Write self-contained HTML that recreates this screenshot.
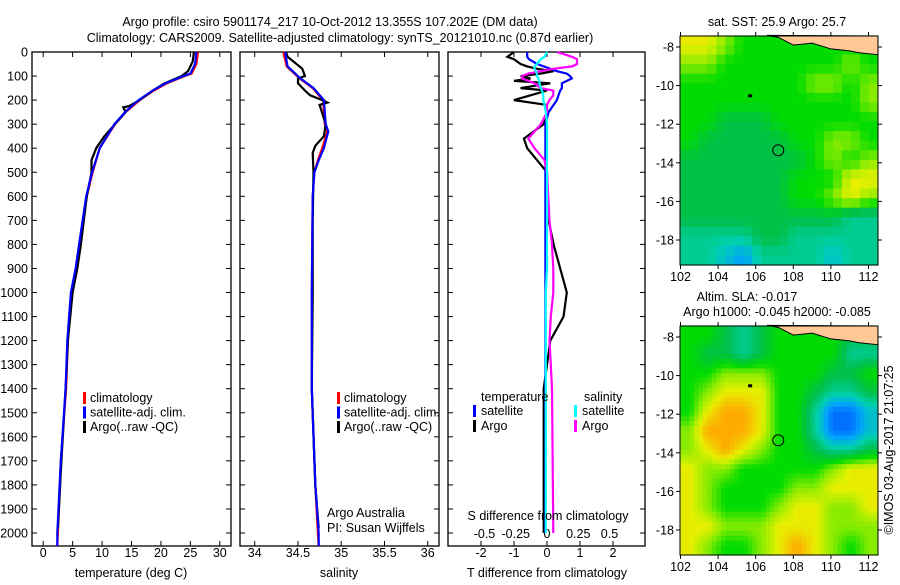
<!DOCTYPE html>
<html><head><meta charset="utf-8"><style>
body{margin:0;background:#fff;width:900px;height:580px;overflow:hidden;font-family:"Liberation Sans",sans-serif}
svg text{font-family:"Liberation Sans",sans-serif;font-size:12.5px;fill:#000}
</style></head><body>
<svg id="c" width="900" height="580" xmlns="http://www.w3.org/2000/svg"></svg>
<script>
// ---- data ----
const tDepthClim=[0,50,90,100,130,160,200,250,300,400,500,600,700,800,900,1000,1200,1400,1700,2000,2054];
const tClim=[26.3,26,25.2,24,21,18.8,16.4,14,12.2,9.6,8.4,7.4,6.8,6.2,5.6,4.8,4.2,3.9,3.0,2.5,2.4];
const tSat=[26.0,25.8,25.0,23.8,20.8,18.6,16.2,13.9,12.1,9.6,8.3,7.3,6.7,6.1,5.5,4.7,4.1,3.8,3.0,2.4,2.4];
const tDepthArgo=[0,40,80,100,130,160,200,225,230,250,300,350,400,450,500,600,700,800,900,1000,1200,1400,1700,1980];
const tArgo=[25.6,25.4,24.6,23.5,20.6,18.6,16.4,14.6,13.6,14,12.2,10.4,9.0,8.2,8.2,7.4,6.9,6.4,5.8,5.0,4.2,3.8,3.1,2.5];
const sDepthClim=[0,60,110,150,200,300,330,400,450,500,600,1000,1400,1800,2000,2054];
const sClim=[34.33,34.37,34.52,34.67,34.79,34.81,34.84,34.78,34.73,34.69,34.67,34.66,34.66,34.70,34.73,34.74];
const sSat=[34.35,34.38,34.53,34.68,34.80,34.82,34.85,34.80,34.74,34.69,34.67,34.66,34.66,34.70,34.74,34.74];
const sDepthArgo=[0,20,40,70,100,110,130,160,180,200,210,220,300,350,390,420,500,700,1000,1400,1800,1980];
const sArgo=[34.36,34.38,34.45,34.55,34.58,34.50,34.50,34.58,34.64,34.78,34.84,34.75,34.82,34.80,34.70,34.67,34.68,34.67,34.67,34.66,34.70,34.74];
const dDepth=[0,20,30,50,60,70,80,90,100,110,120,130,150,160,180,200,220,250,300,330,360,400,450,500,700,800,900,1000,1100,1200,1300,1400,2000];
const dTArgo=[-1.0,-1.2,-1.0,-0.8,-0.6,-0.3,0.2,-0.2,-0.8,-0.5,-1.0,0.1,-0.8,0,-0.5,-1.0,0,0,-0.1,-0.4,-0.7,-0.6,-0.3,0,0.05,0.2,0.4,0.6,0.5,0.1,0,-0.1,-0.1];
const dTSat=[-0.6,-0.6,-0.55,-0.3,-0.1,0.1,0.3,0.6,0.7,0.75,0.6,0.45,0.45,0.4,0.35,0.3,0.2,0.05,-0.05,-0.05,-0.05,-0.05,-0.05,-0.05,-0.05,-0.05,-0.05,-0.05,-0.05,-0.05,-0.05,-0.05,-0.05];
const dSArgo=[0.08,0.2,0.24,0.24,0.2,0.05,-0.05,-0.15,-0.2,-0.2,-0.15,-0.1,-0.05,0.05,0.05,0.02,0,0,-0.05,-0.1,-0.15,-0.1,-0.02,0,0.02,0.04,0.05,0.05,0.03,0.02,0.03,0.04,0.05];
const dSSat=[0,-0.02,-0.05,-0.08,-0.1,-0.1,-0.09,-0.08,-0.08,-0.07,-0.06,-0.06,-0.05,-0.04,-0.03,-0.03,-0.02,-0.01,0,0,0,0,0,0,0,0,0,-0.01,-0.01,-0.01,-0.01,-0.01,-0.01];
const depthTicks=[0,100,200,300,400,500,600,700,800,900,1000,1100,1200,1300,1400,1500,1600,1700,1800,1900,2000];
const tTicks=[0,5,10,15,20,25,30];
const sTicks=[34,34.5,35,35.5,36];
const dtTicks=[-2,-1,0,1,2];
const dsTicks=[-0.5,-0.25,0,0.25,0.5];
const lonTicks=[102,104,106,108,110,112];
const latTicks=[-8,-10,-12,-14,-16,-18];
const sstGrid=[
[8,8,7,6,6,6,6,6,6,6,6],[7,7,6,6,6,6,6,6,6,7,6],[6,6,6,6,6,6,6,7,7,6,7],[6,6,6,6,6,6,6,6,6,6,7],
[6,6,5,5,5,6,6,6,6,6,6],[6,5,5,5,5,5,6,6,7,7,6],[5,5,5,5,5,5,5,6,7,6,7],[5,5,5,5,5,5,6,6,6,8,8],
[5,5,5,5,5,5,6,6,7,8,7],[5,5,5,5,5,5,5,5,5,4,4],[4,4,4,4,5,5,4,4,4,4,4],[4,4,3,2,4,4,4,4,3,4,4]];
const slaGrid=[
[6,6,5,4,5,6,6,6,6,5,5],[6,5,5,4,5,6,6,6,6,4,4],[6,6,7,7,7,6,6,6,5,5,6],[6,7,8,8,8,6,6,5,4,4,5],
[6,8,9,9,8,6,6,4,1,1,3],[7,9,9,9,8,6,6,4,1,1,3],[7,8,9,8,7,6,6,5,4,4,5],[8,7,7,6,6,6,6,6,7,8,8],
[8,7,6,6,6,6,7,7,8,8,8],[8,7,6,6,6,7,8,8,7,7,8],[8,8,7,7,7,8,8,8,7,7,7],[8,7,6,6,7,8,9,8,7,6,7]];
const coastLon=[106.6,107.2,108,109,110,111,111.5,112.5];
const coastLat=[-7.4,-7.5,-7.9,-7.8,-8.1,-8.2,-8.3,-8.4];
const argoPos=[107.2,-13.35];

// ---- helpers ----
const S=document.getElementById('c'),NS='http://www.w3.org/2000/svg';
function mk(t,a,p){const e=document.createElementNS(NS,t);for(const k in a)e.setAttribute(k,a[k]);(p||S).appendChild(e);return e;}
function txt(x,y,s,anchor,name){const e=mk('text',{x:x,y:y,'text-anchor':anchor||'middle'});e.textContent=s;

return e;}
const Y0=52,Y1=546,D0=0,D1=2054;
const yD=d=>Y0+(d-D0)*(Y1-Y0)/(D1-D0);
function lin(a,b,p,q){return v=>p+(v-a)*(q-p)/(b-a);}
function panel(x0,x1,name){const r=mk('rect',{x:x0,y:Y0,width:x1-x0,height:Y1-Y0,fill:'none',stroke:'#000','stroke-width':1.3});

}
function line(xs,ds,fx,col,name,w){const pts=xs.map((v,i)=>fx(v).toFixed(1)+','+yD(ds[i]).toFixed(1)).join(' ');
const e=mk('polyline',{points:pts,fill:'none',stroke:col,'stroke-width':w||2.2});

}
function xticks(ticks,fx,ylab){ticks.forEach(t=>{const x=fx(t);mk('line',{x1:x,x2:x,y1:Y1,y2:Y1-5,stroke:'#000'});mk('line',{x1:x,x2:x,y1:Y0,y2:Y0+5,stroke:'#000'});
if(ylab)txt(x,ylab,String(t),'middle','x-tick-label');});}
function yticks(x0,x1,lab){depthTicks.forEach(d=>{const y=yD(d);mk('line',{x1:x0,x2:x0+5,y1:y,y2:y,stroke:'#000'});mk('line',{x1:x1,x2:x1-5,y1:y,y2:y,stroke:'#000'});
if(lab)txt(x0-4,y+4.5,String(d),'end','y-tick-label');});}
function legMark(x,y,col){const e=mk('rect',{x:x,y:y-10,width:3,height:12,fill:col});

}

txt(330,26,'Argo profile: csiro 5901174_217 10-Oct-2012 13.355S 107.202E (DM data)','middle','title-line-1');
txt(340,42,'Climatology: CARS2009. Satellite-adjusted climatology: synTS_20121010.nc (0.87d earlier)','middle','title-line-2');

const fT=lin(-1.9,31.9,32,231);
panel(32,231,'temperature-panel');yticks(32,231,true);xticks(tTicks,fT,557);
line(tClim,tDepthClim,fT,'#f00','climatology-temp-line');
line(tArgo,tDepthArgo,fT,'#000','argo-temp-line');
line(tSat,tDepthClim,fT,'#00f','satellite-temp-line');
txt(131,577,'temperature (deg C)','middle','x-axis-title-temp');
[['climatology','#f00'],['satellite-adj. clim.','#00f'],['Argo(..raw -QC)','#000']].forEach((l,i)=>{legMark(83,402+i*14.5,l[1]);txt(90,402+i*14.5,l[0],'start','legend-entry');});

const fS=lin(33.83,36.13,240,439);
panel(240,439,'salinity-panel');yticks(240,439,false);xticks(sTicks,fS,557);
line(sClim,sDepthClim,fS,'#f00','climatology-sal-line');
line(sArgo,sDepthArgo,fS,'#000','argo-sal-line');
line(sSat,sDepthClim,fS,'#00f','satellite-sal-line');
txt(339,577,'salinity','middle','x-axis-title-sal');
[['climatology','#f00'],['satellite-adj. clim.','#00f'],['Argo(..raw -QC)','#000']].forEach((l,i)=>{legMark(337,402+i*14.5,l[1]);txt(344,402+i*14.5,l[0],'start','legend-entry');});
txt(327,517,'Argo Australia','start','credit-argo-australia');
txt(327,532,'PI: Susan Wijffels','start','credit-pi');

const fDT=lin(0,1,547,580), fDS=lin(0,1,547,672);
panel(448,645,'difference-panel');yticks(448,645,false);xticks(dtTicks,fDT,557);
dsTicks.forEach(t=>txt(fDS(t),538,String(t),'middle','s-diff-tick-label'));
line(dTArgo,dDepth,fDT,'#000','argo-temp-diff-line');
line(dTSat,dDepth,fDT,'#00f','satellite-temp-diff-line');
line(dSArgo,dDepth,fDS,'#f0f','argo-sal-diff-line');
line(dSSat,dDepth,fDS,'#0ff','satellite-sal-diff-line');
txt(548,520,'S difference from climatology','middle','s-diff-axis-title');
txt(547,577,'T difference from climatology','middle','t-diff-axis-title');
txt(481,401,'temperature','start','legend-title-temp');txt(584,401,'salinity','start','legend-title-sal');
legMark(473,415,'#00f');txt(481,415,'satellite','start','legend-entry');
legMark(473,430,'#000');txt(481,430,'Argo','start','legend-entry');
legMark(574,415,'#0ff');txt(582,415,'satellite','start','legend-entry');
legMark(574,430,'#f0f');txt(582,430,'Argo','start','legend-entry');

const stops=[[0,[0,64,255]],[0.22,[0,160,255]],[0.4,[0,208,176]],[0.55,[0,192,72]],[0.67,[0,220,0]],[0.78,[140,236,0]],[0.88,[230,240,0]],[1,[255,170,0]]];
function cmap(v){v=Math.max(0,Math.min(1,v));for(let i=1;i<stops.length;i++){if(v<=stops[i][0]){const a=stops[i-1],b=stops[i],t=(v-a[0])/(b[0]-a[0]);return 'rgb('+a[1].map((c,k)=>Math.round(c+t*(b[1][k]-c))).join(',')+')';}}return 'rgb(255,170,0)';}
function sample(grid,r,c){const nr=grid.length,nc=grid[0].length;r=Math.max(0,Math.min(nr-1,r));c=Math.max(0,Math.min(nc-1,c));
const r0=Math.floor(r),c0=Math.floor(c),r1=Math.min(nr-1,r0+1),c1=Math.min(nc-1,c0+1),fr=r-r0,fc=c-c0;
return grid[r0][c0]*(1-fr)*(1-fc)+grid[r0][c1]*(1-fr)*fc+grid[r1][c0]*fr*(1-fc)+grid[r1][c1]*fr*fc;}
function map(grid,top,name,sub){
  const x0=680,x1=878,y0=top,y1=top+229;
  const fx=lin(102,112,680.5,868.5), fy=lin(-8,-18,y0+11,y0+204);
  const latN=-7.4, latS=-19.3;
  const g=mk('g',{});
  const nr=grid.length*sub,nc=grid[0].length*sub,dl=(112.5-102)/nc,dy=(latS-latN)/nr;
  for(let r=0;r<nr;r++)for(let c=0;c<nc;c++){
    const v=sample(grid,(r+0.5)/sub-0.5,(c+0.5)/sub-0.5);
    const xa=fx(102+c*dl),xb=fx(102+(c+1)*dl),ya=fy(latN+r*dy),yb=fy(latN+(r+1)*dy);
    const e=mk('rect',{x:xa,y:ya,width:xb-xa+0.5,height:yb-ya+0.5,fill:cmap(v/9)},g);
    
    }
  let pts=coastLon.map((l,i)=>fx(l)+','+fy(coastLat[i])).join(' ');
  const land=mk('polygon',{points:pts+' '+x1+','+y0,fill:'#ffc896',stroke:'#000','stroke-width':1},g);
  
  const ci=mk('circle',{cx:fx(argoPos[0]),cy:fy(argoPos[1]),r:5.5,fill:'none',stroke:'#000','stroke-width':1},g);
  
  mk('rect',{x:fx(105.6),y:fy(-10.45),width:4,height:3,fill:'#000'},g);
  mk('rect',{x:x0,y:y0,width:x1-x0,height:y1-y0,fill:'none',stroke:'#000','stroke-width':1});
  lonTicks.forEach(l=>{const x=fx(l);mk('line',{x1:x,x2:x,y1:y1,y2:y1+4,stroke:'#000'});mk('line',{x1:x,x2:x,y1:y0,y2:y0-4,stroke:'#000'});txt(x,y1+16,String(l),'middle','lon-tick-label');});
  latTicks.forEach(l=>{const y=fy(l);mk('line',{x1:x0,x2:x0-4,y1:y,y2:y,stroke:'#000'});mk('line',{x1:x1,x2:x1+4,y1:y,y2:y,stroke:'#000'});txt(x0-6,y+4.5,String(l),'end','lat-tick-label');});
}
txt(777,26,'sat. SST: 25.9 Argo: 25.7','middle','sst-map-title');
map(sstGrid,36,'sst-map',2);
txt(747,301,'Altim. SLA: -0.017','middle','sla-map-title-1');
txt(777,316,'Argo h1000: -0.045 h2000: -0.085','middle','sla-map-title-2');
map(slaGrid,326,'sla-map',4);
const v=txt(0,0,'©IMOS 03-Aug-2017 21:07:25','middle','timestamp');
v.setAttribute('transform','translate(893,450) rotate(-90)');
</script>
</body></html>
